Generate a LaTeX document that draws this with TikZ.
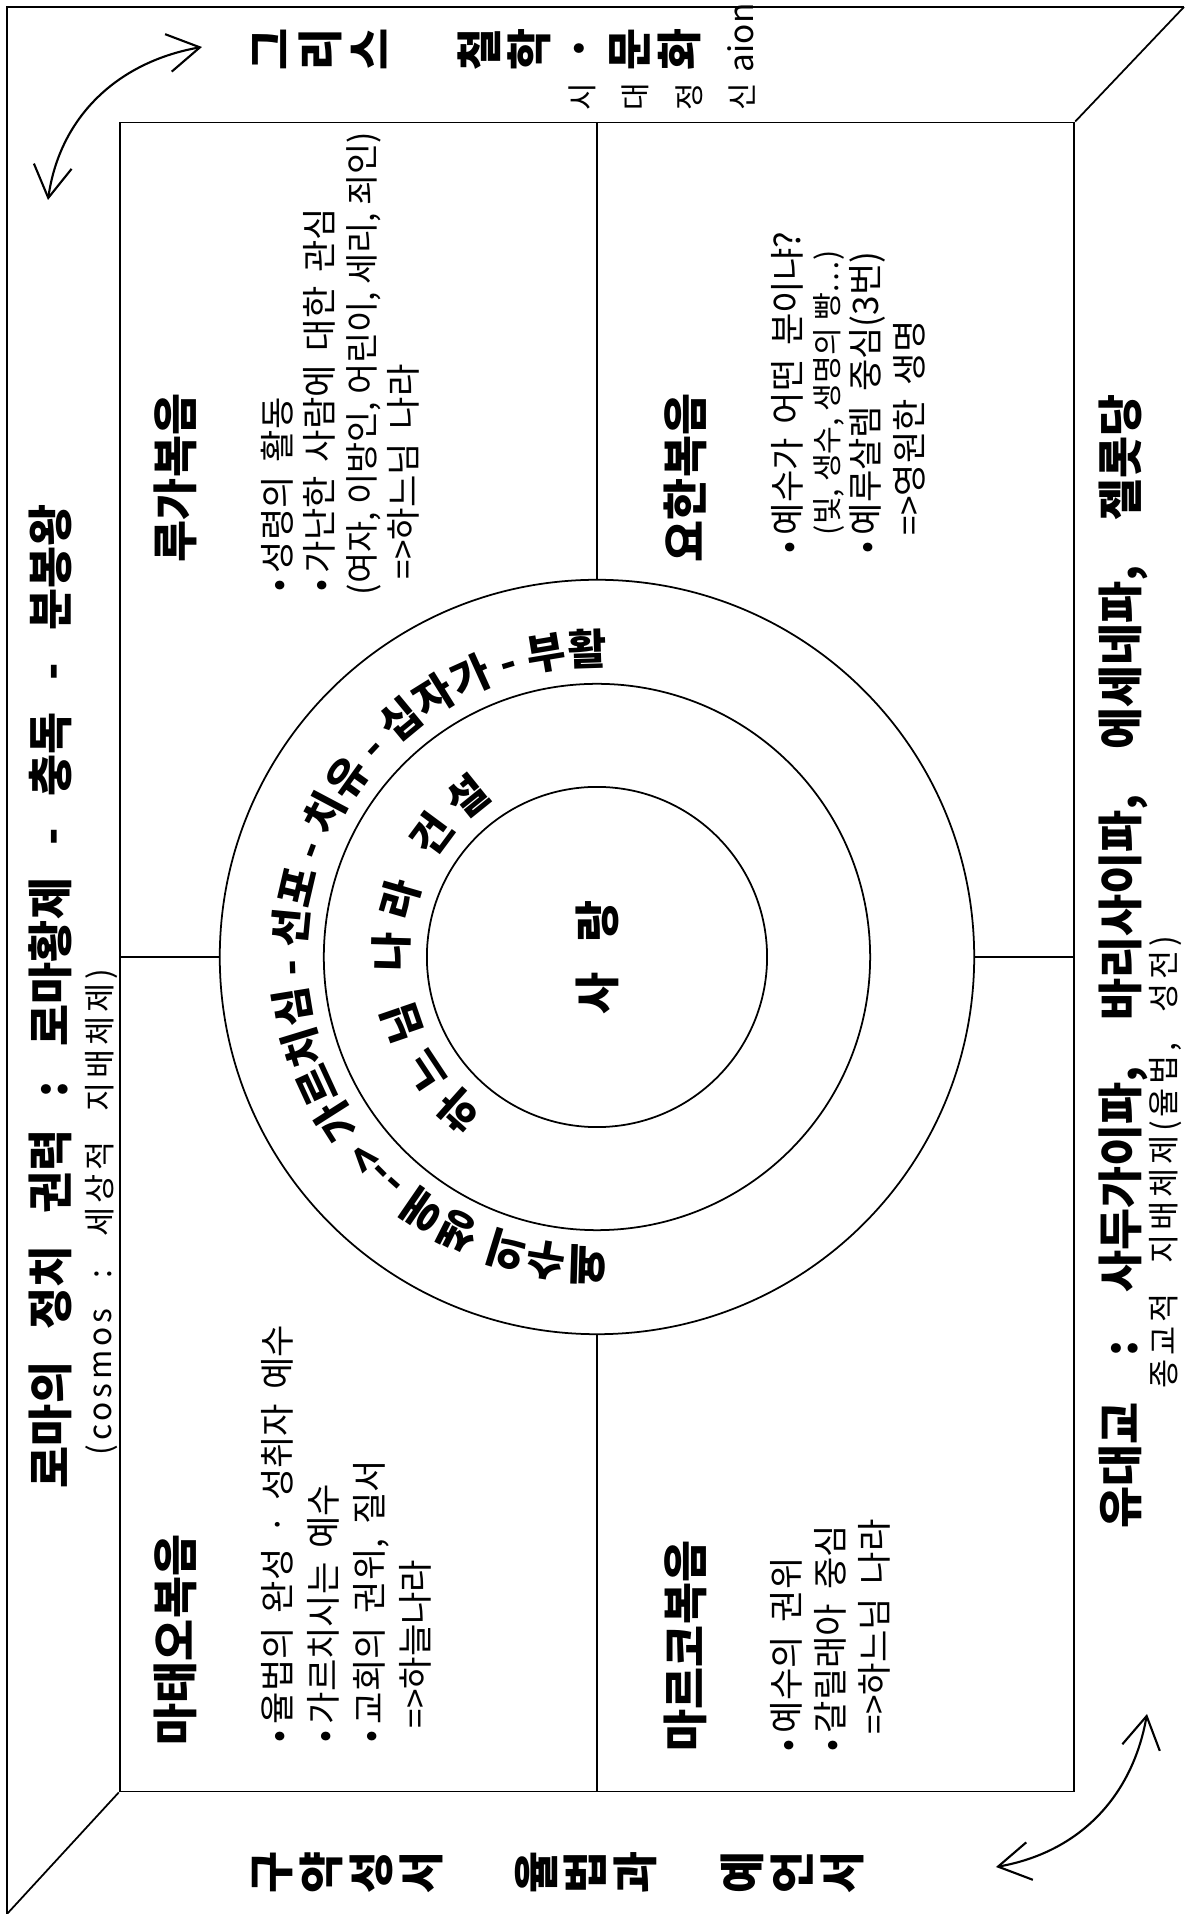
\documentclass[tikz,border=0pt]{standalone}
\usepackage{fontspec}
\setmainfont{Noto Sans CJK KR}
\newfontfamily\trackedkr{Noto Sans CJK KR}[LetterSpace=12]
\IfFontExistsTF{Noto Sans CJK KR Black}
  {\newfontfamily\heavykr{Noto Sans CJK KR Black}}
  {\newcommand{\heavykr}{\bfseries}}
\usetikzlibrary{arrows.meta,decorations.text}

\newcommand{\bigkr}{\heavykr\fontsize{13}{14.2}\selectfont}
\newcommand{\bodykr}{\fontsize{10}{12}\selectfont\spaceskip=0.14cm}
\newcommand{\subkr}{\trackedkr\fontsize{9}{10}\selectfont\spaceskip=0.3cm}
\newcommand{\ringkr}{\heavykr\fontsize{12}{14}\selectfont}

\tikzset{
  heading/.style={font=\bigkr, inner sep=0pt, anchor=base west},
  bodytext/.style={font=\bodykr, inner sep=0pt, anchor=base west},
  subtext/.style={font=\subkr, inner sep=0pt, anchor=base west},
  stack/.style={font=\bigkr, align=center, inner sep=0pt},
  ring/.style={draw, circle, inner sep=0pt},
  swing/.style={line width=0.6pt, {Straight Barb[length=3.2mm,width=3.8mm]}-{Straight Barb[length=3.2mm,width=3.8mm]}},
}

\begin{document}
\begin{tikzpicture}[x=0.01cm, y=0.01cm, rotate=90, transform shape, line width=0.5pt]
\useasboundingbox (0,0) rectangle (1914,1184);

% outer frame and inner panel
\coordinate (outerNW) at (0,1177);
\coordinate (outerNE) at (1907,1177);
\coordinate (outerSE) at (1907,0);
\draw (outerNW) -- (outerNE) -- (outerSE);
\node[draw, inner sep=0pt, minimum width=16.68cm, minimum height=9.54cm] (panel) at (957,587) {};
\draw (panel.north west) -- (outerNW);
\draw (panel.south east) -- (outerSE);

% rings
\node[ring, minimum size=7.54cm] (rimOuter) at (957,587) {};
\node[ring, minimum size=5.46cm] (rimMiddle) at (957,587) {};
\node[ring, minimum size=3.40cm] (rimInner) at (957,587) {};
\draw (rimOuter.north) -- (panel.north);
\draw (rimOuter.south) -- (panel.south);
\draw (rimOuter.west) -- (panel.west);
\draw (rimOuter.east) -- (panel.east);

\node[font=\bigkr, inner sep=0pt] (love) at (rimInner) {사\hspace{0.3cm}랑};
\path[decorate, decoration={text along path, text align={fit to path},
  text={|\ringkr|하느님 나라 건설}}]
  ({957+190*cos(144)},{587+190*sin(144)}) arc[start angle=144, end angle=33, radius=1.9cm];
\path[decorate, decoration={text along path, text align={fit to path},
  text={|\ringkr|예수의 생애 --> 가르치심 - 선포 - 치유 - 십자가 - 부활}}]
  ({957+292*cos(182)},{587+292*sin(182)}) arc[start angle=182, end angle=-2, radius=2.92cm];

% top and bottom bands
\node[heading, font={\bigkr\spaceskip=0.32cm}] (rome) at (425,1116) {로마의 정치 권력 : 로마황제 - 충독 - 분봉왕};
\node[subtext] (cosmos) at (458,1072) {(cosmos : 세상적 지배체제)};
\node[heading, font={\bigkr\spaceskip=0.45cm}] (judaism) at (385,46) {유대교 : 사두가이파, 바리사이파, 에세네파, 젤롯당};
\node[subtext] (religion) at (525,8) {종교적 지배체제(율법, 성전)};

% side columns
\node[stack] (oldTestament) at (42,836) {구\\약\\성\\서};
\node[stack] (law) at (42,598) {율\\법\\과};
\node[stack] (prophets) at (42,392) {예\\언\\서};
\node[stack] (greece) at (1865,864) {그\\리\\스};
\node[stack] (culture) at (1865,605) {철\\학\\·\\문\\화};
\node[font=\fontsize{8.5}{15.1}\selectfont, align=center, inner sep=0pt] (zeitgeist) at (1817,522) {시\\대\\정\\신};
\node[font=\fontsize{9.5}{11}\selectfont, inner sep=0pt, anchor=base west] (aion) at (1841,430) {aion};

% Matthew
\node[heading] (matthew) at (168,991) {마태오복음};
\node[bodytext] (matthew1) at (171,893) {•\,율법의 완성 · 성취자 예수};
\node[bodytext] (matthew2) at (171,847) {•\,가르치시는 예수};
\node[bodytext] (matthew3) at (171,801) {•\,교회의 권위, 질서};
\node[bodytext] (matthew4) at (185,755) {=>하늘나라};

% Luke
\node[heading] (luke) at (1351,991) {루가복음};
\node[bodytext] (luke1) at (1322,893) {•\,성령의 활동};
\node[bodytext] (luke2) at (1322,851) {•\,가난한 사람에 대한 관심};
\node[bodytext, font=\fontsize{9.6}{12}\selectfont] (luke3) at (1318,809) {(여자, 이방인, 어린이, 세리, 죄인)};
\node[bodytext] (luke4) at (1334,767) {=>하느님 나라};

% Mark
\node[heading] (mark) at (162,481) {마르코복음};
\node[bodytext] (mark1) at (162,384) {•\,예수의 권위};
\node[bodytext] (mark2) at (162,340) {•\,갈릴래아 중심};
\node[bodytext] (mark3) at (179,296) {=>하느님 나라};

% John
\node[heading] (john) at (1351,481) {요한복음};
\node[bodytext] (john1) at (1360,383) {•\,예수가 어떤 분이냐?};
\node[bodytext, font=\fontsize{8.6}{10}\selectfont] (john2) at (1378,345) {(빛, 생수, 생명의 빵…)};
\node[bodytext] (john3) at (1360,305) {•\,예루살렘 중심(3번)};
\node[bodytext] (john4) at (1378,261) {=>영원한 생명};

% swing arrows
\coordinate (swingA1) at (1714,1136);
\coordinate (swingA2) at (1867,982);
\draw[swing] (swingA1) to[out=-8, in=100] (swingA2);
\coordinate (swingB1) at (47,188);
\coordinate (swingB2) at (200,37);
\draw[swing] (swingB1) to[out=-80, in=170] (swingB2);
\end{tikzpicture}
\end{document}
